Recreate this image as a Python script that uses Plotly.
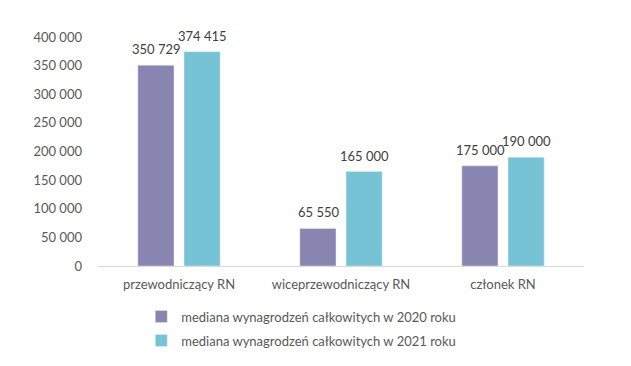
import plotly.graph_objects as go

categories = ["przewodniczący RN", "wiceprzewodniczący RN", "członek RN"]
values_2020 = [350729, 65550, 175000]
values_2021 = [374415, 165000, 190000]
series_names = ["mediana wynagrodzeń całkowitych w 2020 roku",
                "mediana wynagrodzeń całkowitych w 2021 roku"]
tick_vals = [0, 50000, 100000, 150000, 200000, 250000, 300000, 350000, 400000]

FONT = "Lato, 'Open Sans', sans-serif"
TXT = "#595959"
COLORS = ["#8985B1", "#77C3D6"]


def fmt(v):
    return f"{v:,}".replace(",", " ")


fig = go.Figure()
for vals, name, col, grp in [(values_2020, series_names[0], COLORS[0], "a"),
                             (values_2021, series_names[1], COLORS[1], "b")]:
    fig.add_trace(go.Bar(x=categories, y=vals, name=name,
                         marker_color=col, legendgroup=grp,
                         hoverinfo="x+y+name"))

# data labels above the bars
for vals, shift in [(values_2020, -23), (values_2021, 23)]:
    for c, v in zip(categories, vals):
        fig.add_annotation(x=c, y=v, text=fmt(v), showarrow=False,
                           xshift=shift, yshift=6, yanchor="bottom",
                           font=dict(size=13, color="#404040", family=FONT))

fig.update_layout(
    width=631, height=366,
    margin=dict(l=98, r=47, t=37, b=100),
    paper_bgcolor="white", plot_bgcolor="white",
    separators=", ",
    barmode="group", bargap=0.43, bargroupgap=0.217,
    font=dict(family=FONT, size=13, color=TXT),
    showlegend=True,
    legend=dict(orientation="v", x=0.089, xanchor="left",
                yref="container", y=0.176, yanchor="top",
                traceorder="grouped", tracegroupgap=4,
                font=dict(size=13, color=TXT, family=FONT),
                bgcolor="rgba(0,0,0,0)"),
)
fig.update_yaxes(range=[0, 400000], tickvals=tick_vals, tickformat=",",
                 showgrid=False, zeroline=False, showline=False,
                 ticks="", automargin=False, ticklabelstandoff=15,
                 tickfont=dict(size=13, color=TXT))
fig.update_xaxes(showline=True, linecolor="#D9D9D9", linewidth=1,
                 ticks="", automargin=False, ticklabelstandoff=6,
                 tickfont=dict(size=13, color=TXT))

fig.write_html("out.html", config={"displayModeBar": False},
               post_script="document.body.style.margin='0';")
